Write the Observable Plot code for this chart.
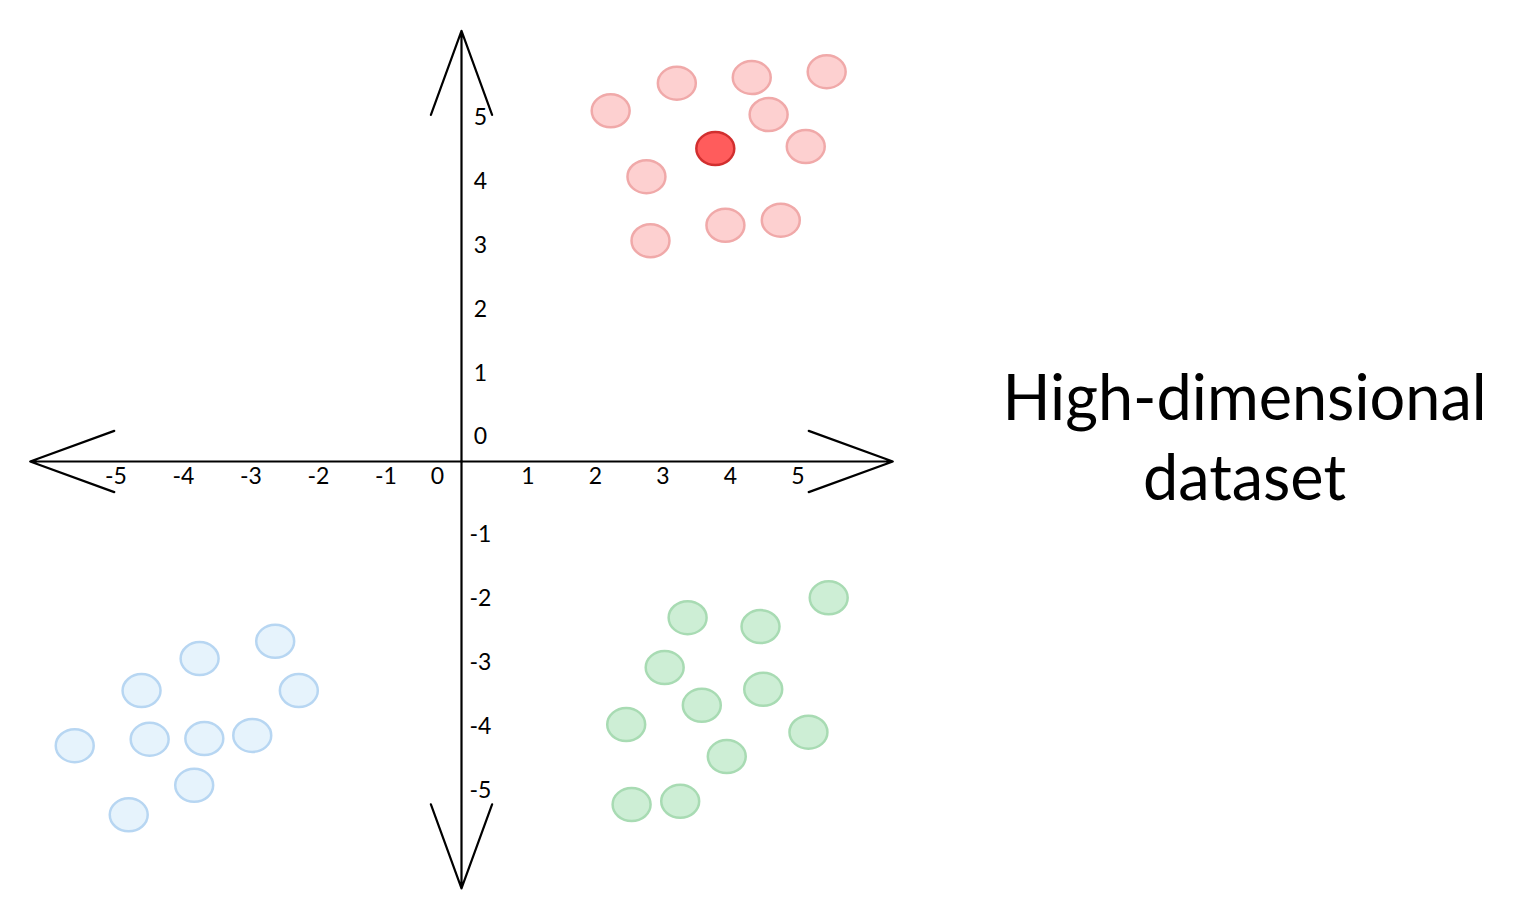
<!DOCTYPE html>
<html><head><meta charset="utf-8">
<script src="https://cdn.jsdelivr.net/npm/d3@7"></script>
<script src="https://cdn.jsdelivr.net/npm/@observablehq/plot@0.6"></script>
<style>body{margin:0;background:#fff}</style>
</head><body><div id="chart"></div>
<script>
// Cluster A (red, upper right)
const redX = [2.21, 3.19, 4.30, 5.41, 4.55, 5.10, 2.74, 2.80, 3.91, 4.73];
const redY = [5.48, 5.91, 6.00, 6.09, 5.42, 4.92, 4.45, 3.45, 3.69, 3.77];
// Highlighted point
const highlightX = [3.76];
const highlightY = [4.89];
// Cluster B (blue, lower left)
const blueX = [-2.76, -3.88, -4.74, -2.41, -5.73, -4.62, -3.81, -3.10, -3.96, -4.93];
const blueY = [-2.81, -3.08, -3.58, -3.58, -4.44, -4.34, -4.33, -4.28, -5.06, -5.52];
// Cluster C (green, lower right)
const greenX = [5.44, 3.35, 4.43, 3.01, 4.47, 3.56, 2.44, 5.14, 3.93, 2.52, 3.24];
const greenY = [-2.13, -2.44, -2.58, -3.22, -3.56, -3.81, -4.11, -4.23, -4.61, -5.36, -5.31];
// Axis ticks
const posTicks = [1, 2, 3, 4, 5];
const negTicks = [-5, -4, -3, -2, -1];
// Axis extents (arrow tips)
const axisEndX = [-6.39, 6.39, 0, 0];
const axisEndY = [0, 0, 6.73, -6.67];
// Annotation
const annotation = ["High-dimensional\ndataset"];
const annotationX = [11.6];
const annotationY = [0.42];

const ellipse = {
  draw(ctx, size) {
    const r = Math.sqrt(size / Math.PI);
    const rx = r * 1.15, ry = r, k = 0.5523;
    ctx.moveTo(rx, 0);
    ctx.bezierCurveTo(rx, ry * k, rx * k, ry, 0, ry);
    ctx.bezierCurveTo(-rx * k, ry, -rx, ry * k, -rx, 0);
    ctx.bezierCurveTo(-rx, -ry * k, -rx * k, -ry, 0, -ry);
    ctx.bezierCurveTo(rx * k, -ry, rx, -ry * k, rx, 0);
    ctx.closePath();
  }
};

const W = 1517, H = 919;
const x0 = 461, y0 = 461, kx = 67.5, ky = 64;
const font = "Lato, 'DejaVu Sans', sans-serif";

function cluster(xs, ys, fill, stroke) {
  return Plot.dot(d3.range(xs.length), {
    x: i => xs[i], y: i => ys[i], r: 16.5, symbol: ellipse,
    fill, stroke, strokeWidth: 2.5
  });
}

const tick = {fontSize: 23, fill: "#000"};

const chart = Plot.plot({
  width: W, height: H,
  marginLeft: 0, marginRight: 0, marginTop: 0, marginBottom: 0,
  x: {domain: [-x0 / kx, (W - x0) / kx], axis: null},
  y: {domain: [(y0 - H) / ky, y0 / ky], axis: null},
  style: {fontFamily: font, background: "#fff"},
  marks: [
    Plot.arrow(d3.range(4), {
      x1: () => 0, y1: () => 0, x2: i => axisEndX[i], y2: i => axisEndY[i],
      stroke: "#000", strokeWidth: 2.2, headLength: 61, headAngle: 40
    }),
    cluster(redX, redY, "#fdd0d0", "#f0a9a9"),
    cluster(blueX, blueY, "#e6f3fc", "#b7d6f2"),
    cluster(greenX, greenY, "#cdeed5", "#a8dbb3"),
    cluster(highlightX, highlightY, "#ff5c5c", "#d12f2f"),
    // x tick labels
    Plot.text(posTicks, {x: d => d, y: () => 0, text: d => String(d), dy: 15, dx: -1, ...tick}),
    Plot.text(negTicks, {x: d => d, y: () => 0, text: d => String(d), dy: 15, dx: -8, ...tick}),
    Plot.text([0], {x: d => d, y: () => 0, text: d => String(d), dy: 15, dx: -24, ...tick}),
    // y tick labels
    Plot.text(posTicks, {x: () => 0, y: d => d, text: d => String(d), dx: 19, dy: -24, ...tick}),
    Plot.text(negTicks, {x: () => 0, y: d => d, text: d => String(d), dx: 19, dy: 9, ...tick}),
    Plot.text([0], {x: () => 0, y: d => d, text: d => String(d), dx: 19, dy: -25, ...tick}),
    // annotation
    Plot.text(annotation, {x: () => annotationX[0], y: () => annotationY[0], text: d => d, fontSize: 63, lineHeight: 1.27, fill: "#000"})
  ]
});
document.getElementById("chart").appendChild(chart);
</script>
</body></html>
